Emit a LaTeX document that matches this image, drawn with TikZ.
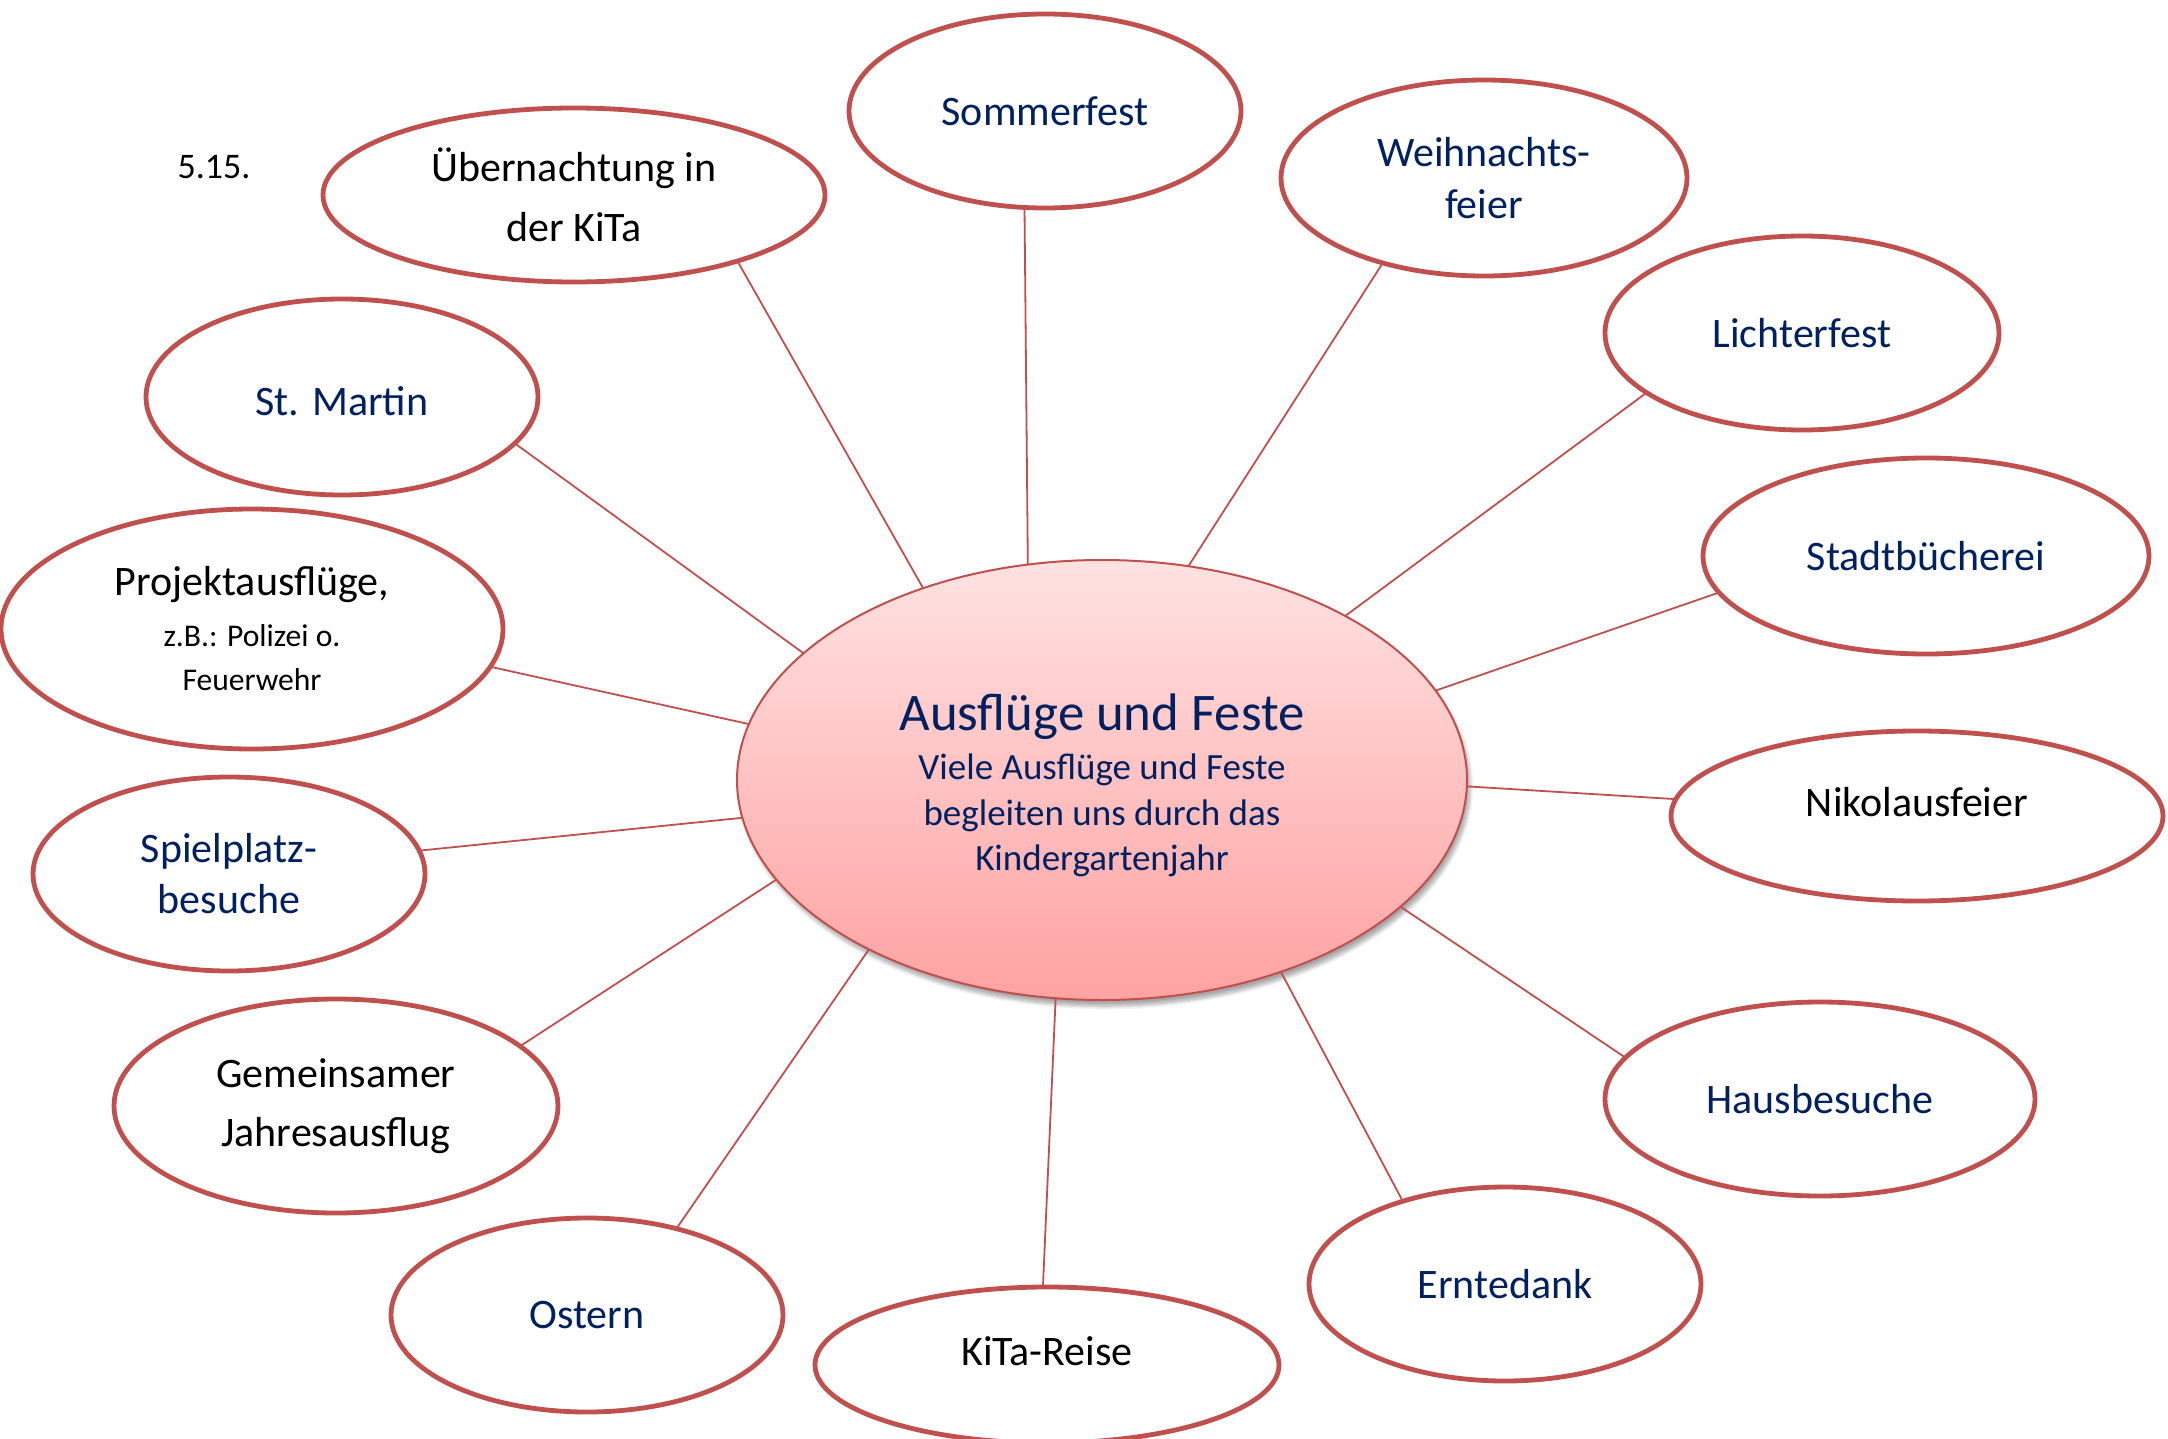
\documentclass[tikz,border=0pt]{standalone}
\usepackage{fontspec}
\setmainfont{Carlito}
\usetikzlibrary{shapes.geometric,shadows.blur}
\definecolor{accent}{HTML}{C0504D}
\definecolor{navy}{HTML}{002060}
\definecolor{ctop}{HTML}{FFE2E2}
\definecolor{cbot}{HTML}{FFA2A2}
\tikzset{
  bubble/.style={ellipse, draw=accent, line width=2.4pt, fill=white, inner sep=0pt, outer sep=0pt,
    align=center, font=\fontsize{21}{29.5}\selectfont},
  hub/.style={ellipse, draw=accent, line width=1pt, top color=ctop, bottom color=cbot, inner sep=0pt,
    outer sep=0pt, align=center, text=navy,
    blur shadow={shadow xshift=1.5pt, shadow yshift=-3pt, shadow blur steps=8, shadow opacity=35},
    font=\fontsize{18.5}{22.8}\selectfont},
  blue/.style={text=navy},
  black/.style={text=black},
  link/.style={draw=accent, line width=0.9pt}
}
\begin{document}
\begin{tikzpicture}[x=0.5pt,y=-0.5pt]
\useasboundingbox (0,0) rectangle (2168,1439);

\node[hub, minimum width=365pt, minimum height=220pt] (c) at (1102,780)
  {\raisebox{-1.5pt}[\dimexpr\height+4pt\relax][\depth]{\fontsize{26.4}{30}\selectfont Ausflüge und Feste}\\[3.4pt]Viele Ausflüge und Feste\\begleiten uns durch das\\Kindergartenjahr};

\node[bubble, black, minimum width=251pt, minimum height=87pt, font=\fontsize{21}{29.7}\selectfont] (ueb) at (574,195) {Übernachtung in\\der KiTa};
\node[bubble, blue, minimum width=196pt, minimum height=97pt] (som) at (1045,111) {Sommerfest};
\node[bubble, blue, minimum width=203pt, minimum height=98pt, font=\fontsize{21}{26}\selectfont] (wei) at (1484,178) {Weihnachts-\\feier};
\node[bubble, blue, minimum width=197pt, minimum height=97pt] (lic) at (1802,333) {Lichterfest};
\node[bubble, blue, minimum width=223pt, minimum height=98pt] (sta) at (1926,556) {Stadtbücherei};
\node[bubble, black, minimum width=246pt, minimum height=85pt] (nik) at (1917,816) {\raisebox{7pt}[\height][\depth]{Nikolausfeier}};
\node[bubble, blue, minimum width=215pt, minimum height=97pt] (hau) at (1820,1099) {Hausbesuche};
\node[bubble, blue, minimum width=196pt, minimum height=97pt] (ern) at (1505,1284) {Erntedank};
\node[bubble, black, minimum width=232pt, minimum height=78pt] (kit) at (1047,1365) {\raisebox{7pt}[\height][\depth]{KiTa-Reise}};
\node[bubble, blue, minimum width=196pt, minimum height=97pt] (ost) at (587,1315) {Ostern};
\node[bubble, black, minimum width=222pt, minimum height=107pt, font=\fontsize{21}{29.7}\selectfont] (gem) at (336,1106) {Gemeinsamer\\Jahresausflug};
\node[bubble, blue, minimum width=196pt, minimum height=97pt, font=\fontsize{21}{25.5}\selectfont] (spi) at (229,874) {Spielplatz-\\besuche};
\node[bubble, black, minimum width=251pt, minimum height=120pt, font=\fontsize{15.8}{22}\selectfont] (pro) at (252,629)
  {{\fontsize{21}{25}\selectfont Projektausflüge,}\\[3.5pt]z.B.: Polizei o.\\Feuerwehr};
\node[bubble, blue, minimum width=196pt, minimum height=98pt] (stm) at (342,397) {\raisebox{-2pt}[\height][\depth]{St. Martin}};

\node[font=\fontsize{18}{22}\selectfont, text=black] (num) at (214,167) {5.15.};

\draw[link] (c.133.2) -- (ueb.-22.6);
\draw[link] (c.109.7) -- (som.-102.5);
\draw[link] (c.68.3) -- (wei.-140.7);
\draw[link] (c.34) -- (lic.-159.6);
\draw[link] (c.15) -- (sta.-170.3);
\draw[link] (c.-1.7) -- (nik.176.5);
\draw[link] (c.-23.2) -- (hau.168.8);
\draw[link] (c.-47.3) -- (ern.141.7);
\draw[link] (c.-102.3) -- (kit.93);
\draw[link] (c.-144.4) -- (ost.44);
\draw[link] (c.-163.1) -- (gem.18.1);
\draw[link] (c.-174.2) -- (spi.7.2);
\draw[link] (c.171.8) -- (pro.-9.3);
\draw[link] (c.157.7) -- (stm.-15.7);
\end{tikzpicture}
\end{document}
